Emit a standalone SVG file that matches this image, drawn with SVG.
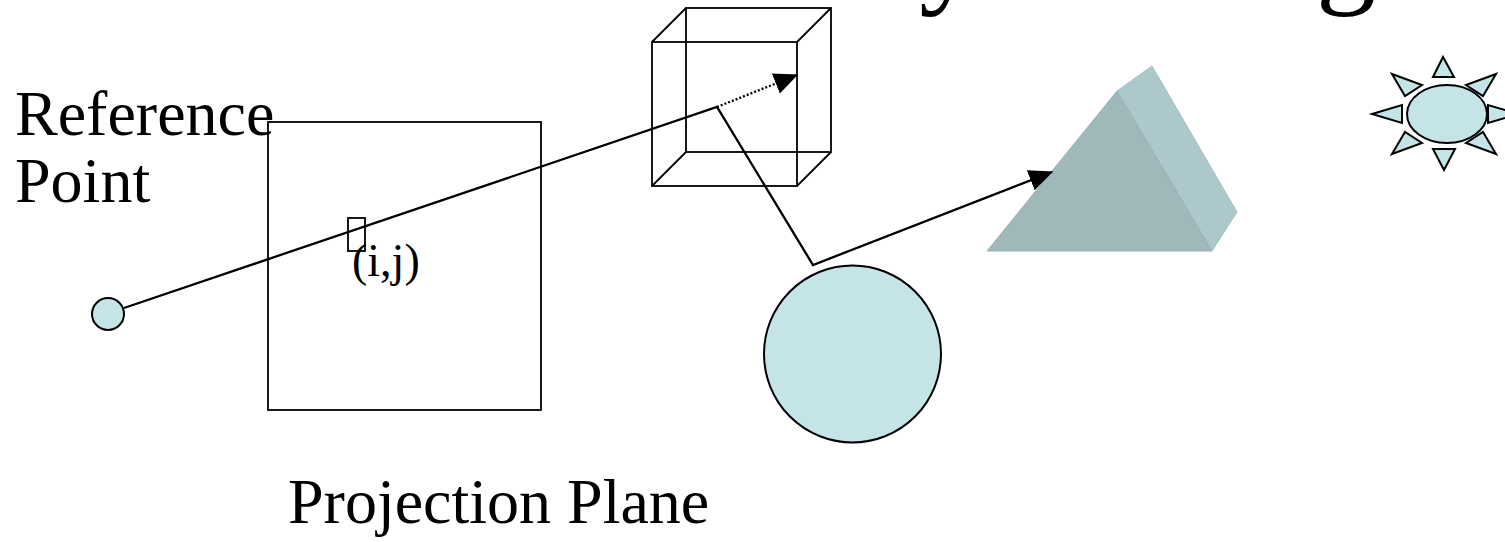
<svg xmlns="http://www.w3.org/2000/svg" width="1505" height="542" viewBox="0 0 1505 542">
  <style>
    .label { font-family: "Liberation Serif", "Times New Roman", serif; fill: #000; }
    .frame { fill: none; stroke: #000; stroke-width: 1.8; }
    .ray { fill: none; stroke: #000; stroke-width: 2.3; }
    .solid { fill: #c5e4e8; stroke: #000; stroke-width: 2; }
  </style>
  <defs>
    <marker id="arrowBig" viewBox="0 0 10 10" refX="9.5" refY="5" markerWidth="24" markerHeight="24" markerUnits="userSpaceOnUse" orient="auto">
      <path d="M0,0.5 L10,5 L0,9.5 z" fill="#000"/>
    </marker>
  </defs>

  <rect width="1505" height="542" fill="#fff"/>

  <!-- title, mostly above the visible area -->
  <text class="label" x="786" y="-9" font-size="120">Ray Tracing</text>

  <!-- reference point -->
  <g id="reference-point">
    <circle class="solid" cx="108" cy="314" r="16"/>
    <text class="label" x="15" y="135" font-size="64">Reference</text>
    <text class="label" x="15" y="202" font-size="64">Point</text>
  </g>

  <!-- projection plane with one pixel -->
  <g id="projection-plane">
    <rect class="frame" x="268" y="122" width="273" height="288"/>
    <rect class="frame" x="348" y="218" width="17" height="33"/>
    <text class="label" x="352" y="276" font-size="46">(i,j)</text>
    <text class="label" x="288" y="523" font-size="64">Projection Plane</text>
  </g>

  <!-- wireframe cube -->
  <g id="cube">
    <rect class="frame" x="686" y="8" width="145" height="144"/>
    <rect class="frame" x="652" y="42" width="145" height="144"/>
    <path class="frame" d="M652,42 L686,8 M797,42 L831,8 M652,186 L686,152 M797,186 L831,152"/>
  </g>

  <!-- sphere -->
  <g id="sphere">
    <circle class="solid" cx="852.5" cy="354" r="88.5"/>
  </g>

  <!-- triangular prism -->
  <g id="prism">
    <polygon points="1117,91 1152,66 1237,212 1212,251" fill="#acc8cb" stroke="#a6c3c6" stroke-width="1"/>
    <polygon points="1117,91 987,251 1212,251" fill="#a0b8ba" stroke="#9ab3b6" stroke-width="1"/>
  </g>

  <!-- light source -->
  <g id="light">
    <g class="solid" stroke-width="1.8">
      <polygon points="1443,57 1433,77 1454,77"/>
      <polygon points="1444,170 1433,149 1455,149"/>
      <polygon points="1372,114 1402,105 1402,123"/>
      <polygon points="1519,114 1488,105 1488,123"/>
      <polygon points="1392,74 1422,85 1405,96"/>
      <polygon points="1496,74 1466,85 1483,96"/>
      <polygon points="1392,154 1422,143 1405,132"/>
      <polygon points="1496,154 1466,143 1483,132"/>
    </g>
    <ellipse class="solid" cx="1447" cy="114" rx="40" ry="29"/>
  </g>

  <!-- rays -->
  <g id="connectors">
    <polyline class="ray" points="124,308 717,107 813,265 1052,172" marker-end="url(#arrowBig)"/>
    <line x1="717" y1="107" x2="797" y2="75" stroke="#000" stroke-width="2.3" stroke-dasharray="2,2" marker-end="url(#arrowBig)"/>
  </g>
</svg>
